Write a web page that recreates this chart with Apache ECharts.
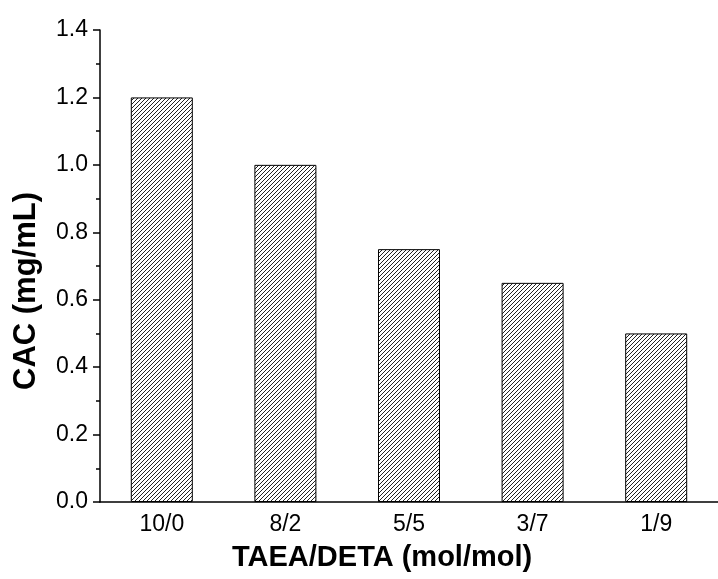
<!DOCTYPE html>
<html>
<head>
<meta charset="utf-8">
<script src="https://cdn.jsdelivr.net/npm/echarts@6/dist/echarts.min.js"></script>
<style>
html,body{margin:0;padding:0;background:#fff;}
#chart{width:718px;height:579px;}
</style>
</head>
<body>
<div id="chart"></div>
<script>
const categories = ['10/0', '8/2', '5/5', '3/7', '1/9'];
const cacValues = [1.2, 1.0, 0.75, 0.65, 0.5];
const xTitle = 'TAEA/DETA (mol/mol)';
const yTitle = 'CAC (mg/mL)';

const FONT = "'Liberation Sans', Arial, sans-serif";

// hatch pattern "/"
const pc = document.createElement('canvas');
pc.width = 4; pc.height = 4;
const g = pc.getContext('2d');
g.fillStyle = '#fff';
g.fillRect(0, 0, 4, 4);
g.strokeStyle = '#222';
g.lineWidth = 1;
g.beginPath();
g.moveTo(-1, 5); g.lineTo(5, -1);
g.moveTo(-1, 1); g.lineTo(1, -1);
g.moveTo(3, 5); g.lineTo(5, 3);
g.stroke();

const chart = echarts.init(document.getElementById('chart'), null, {renderer: 'canvas'});
chart.setOption({
  animation: false,
  backgroundColor: '#fff',
  grid: {left: 100, top: 30, bottom: 77, right: -7, containLabel: false},
  xAxis: {
    type: 'category',
    data: categories,
    axisLine: {lineStyle: {color: '#000', width: 1.5}},
    axisTick: {show: false},
    axisLabel: {color: '#000', fontSize: 23, fontFamily: FONT, margin: 11}
  },
  yAxis: {
    type: 'value',
    min: 0, max: 1.4, interval: 0.2,
    axisLine: {show: true, lineStyle: {color: '#000', width: 1.5}},
    axisTick: {show: true, inside: false, length: 7, lineStyle: {color: '#000', width: 1.5}},
    minorTick: {show: true, splitNumber: 2, length: 4, lineStyle: {color: '#000', width: 1.5}},
    splitLine: {show: false},
    axisLabel: {color: '#000', fontSize: 23, fontFamily: FONT, margin: 12,
      formatter: v => v.toFixed(1)}
  },
  series: [{
    type: 'bar',
    data: cacValues,
    barWidth: 62,
    itemStyle: {
      color: {image: pc, repeat: 'repeat'},
      borderColor: '#000',
      borderWidth: 1
    }
  }],
  graphic: [
    {type: 'text', left: 232, top: 543,
      style: {text: xTitle, font: "bold 29px " + FONT, fill: '#000'}},
    {type: 'text', rotation: Math.PI / 2, x: 11, y: 390,
      style: {text: yTitle, font: "bold 31px " + FONT, fill: '#000', textVerticalAlign: 'top'}}
  ]
});
</script>
</body>
</html>
